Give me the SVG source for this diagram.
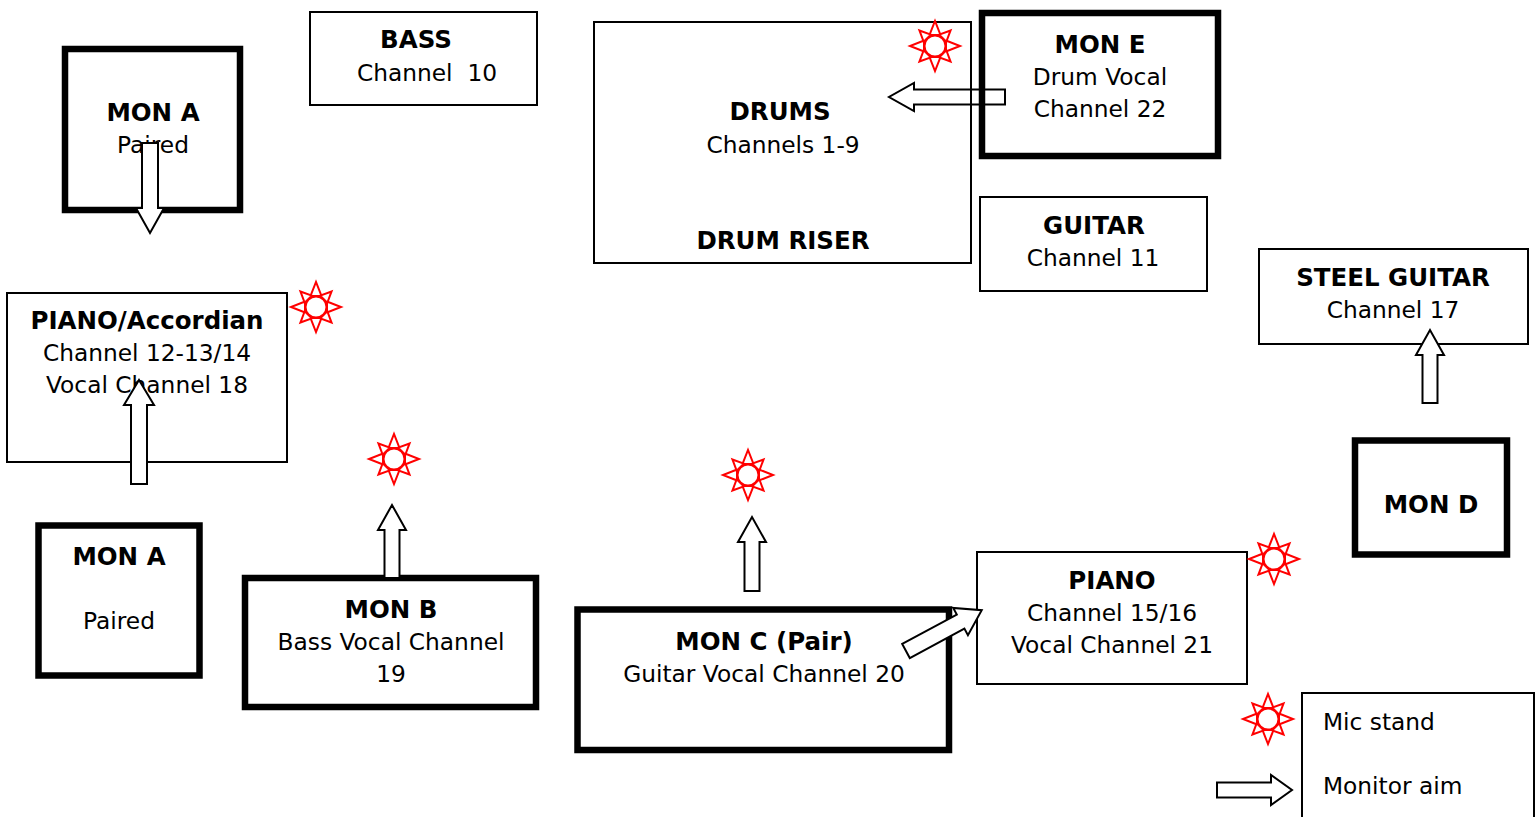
<svg xmlns="http://www.w3.org/2000/svg" width="1539" height="817" viewBox="0 0 1539 817">
<style>
text{font-family:"DejaVu Sans","Liberation Sans",sans-serif;font-size:23.3px;fill:#000;text-anchor:middle;white-space:pre}
.b{font-weight:bold;font-size:24.5px}
.l{text-anchor:start}
.thin{fill:none;stroke:#000;stroke-width:2}
.thick{fill:none;stroke:#000;stroke-width:6.5}
.arrow{fill:#fff;stroke:#000;stroke-width:2;stroke-linejoin:miter}
.mic *{fill:#fff;stroke:#f00;stroke-width:2}
</style>
<defs>
<g id="mic" class="mic">
<polygon points="-5.5,-11 5.5,-11 0,-25"/>
<polygon points="-5.5,-11 5.5,-11 0,-25" transform="rotate(90)"/>
<polygon points="-5.5,-11 5.5,-11 0,-25" transform="rotate(180)"/>
<polygon points="-5.5,-11 5.5,-11 0,-25" transform="rotate(270)"/>
<polygon points="-5,-11 5,-11 0,-22" transform="rotate(45)"/>
<polygon points="-5,-11 5,-11 0,-22" transform="rotate(135)"/>
<polygon points="-5,-11 5,-11 0,-22" transform="rotate(225)"/>
<polygon points="-5,-11 5,-11 0,-22" transform="rotate(315)"/>
<circle r="10.5"/>
</g>
</defs>
<rect width="1539" height="817" fill="#fff"/>
<g id="monA1"><rect class="thick" x="65" y="49" width="175" height="161"/><text class="b" x="153" y="121">MON A</text><text x="153" y="153">Paired</text></g>
<g id="bass"><rect class="thin" x="310" y="12" width="227" height="93"/><text class="b" x="416" y="48">BASS</text><text x="427" y="81">Channel  10</text></g>
<g id="guitar"><rect class="thin" x="980" y="197" width="227" height="94"/><text class="b" x="1094" y="234">GUITAR</text><text x="1093" y="266">Channel 11</text></g>
<g id="steel"><rect class="thin" x="1259" y="249" width="269" height="95"/><text class="b" x="1393" y="286">STEEL GUITAR</text><text x="1393" y="318">Channel 17</text></g>
<g id="pianoAcc"><rect class="thin" x="7" y="293" width="280" height="169"/><text class="b" x="147" y="329">PIANO/Accordian</text><text x="147" y="361">Channel 12-13/14</text><text x="147" y="393">Vocal Channel 18</text></g>
<g id="monA2"><rect class="thick" x="38.5" y="525.5" width="161" height="150"/><text class="b" x="119" y="565">MON A</text><text x="119" y="629">Paired</text></g>
<g id="monB"><rect class="thick" x="245" y="578" width="291" height="129"/><text class="b" x="391" y="618">MON B</text><text x="391" y="650">Bass Vocal Channel</text><text x="391" y="682">19</text></g>
<g id="monC"><rect class="thick" x="577.5" y="609.5" width="371.5" height="140.5"/><text class="b" x="764" y="650">MON C (Pair)</text><text x="764" y="682">Guitar Vocal Channel 20</text></g>
<g id="piano"><rect class="thin" x="977" y="552" width="270" height="132"/><text class="b" x="1112" y="589">PIANO</text><text x="1112" y="621">Channel 15/16</text><text x="1112" y="653">Vocal Channel 21</text></g>
<g id="monD"><rect class="thick" x="1355" y="440.5" width="152" height="114"/><text class="b" x="1431" y="513">MON D</text></g>
<g id="legend"><rect class="thin" x="1302" y="693" width="232" height="140"/><text class="l" x="1323" y="730">Mic stand</text><text class="l" x="1323" y="794">Monitor aim</text></g>
<g id="connectors">
<path class="arrow" transform="translate(1005,97) rotate(180)" d="M0,-7.5H91V-14L116,0L91,14V7.5H0Z"/>
</g>
<g id="drums"><rect class="thin" x="594" y="22" width="377" height="241"/><text class="b" x="780" y="120">DRUMS</text><text x="783" y="153">Channels 1-9</text><text class="b" x="783" y="249">DRUM RISER</text></g>
<g id="monE"><rect class="thick" x="982" y="13" width="236" height="143"/><text class="b" x="1100" y="53">MON E</text><text x="1100" y="85">Drum Vocal</text><text x="1100" y="117">Channel 22</text></g>
<g id="connectors2">
<path class="arrow" transform="translate(150,143) rotate(90)" d="M0,-8H65V-14L90,0L65,14V8H0Z"/>
<path class="arrow" transform="translate(139,484) rotate(-90)" d="M0,-8H79V-15L104,0L79,15V8H0Z"/>
<path class="arrow" transform="translate(392,578) rotate(-90)" d="M0,-7.5H48V-14L73,0L48,14V7.5H0Z"/>
<path class="arrow" transform="translate(752,591) rotate(-90)" d="M0,-7.5H49V-14L74,0L49,14V7.5H0Z"/>
<path class="arrow" transform="translate(1430,403) rotate(-90)" d="M0,-7.5H48V-14L73,0L48,14V7.5H0Z"/>
<path class="arrow" transform="translate(906,651) rotate(-28.3)" d="M0,-8H62V-15.5L86,0L62,15.5V8H0Z"/>
<path class="arrow" transform="translate(1217,790)" d="M0,-7.5H54V-15L75,0L54,15V7.5H0Z"/>
</g>
<g id="mics">
<use href="#mic" x="935" y="46"/>
<use href="#mic" x="316" y="307"/>
<use href="#mic" x="394" y="459"/>
<use href="#mic" x="748" y="475"/>
<use href="#mic" x="1274" y="559"/>
<use href="#mic" x="1268" y="719"/>
</g>
</svg>
